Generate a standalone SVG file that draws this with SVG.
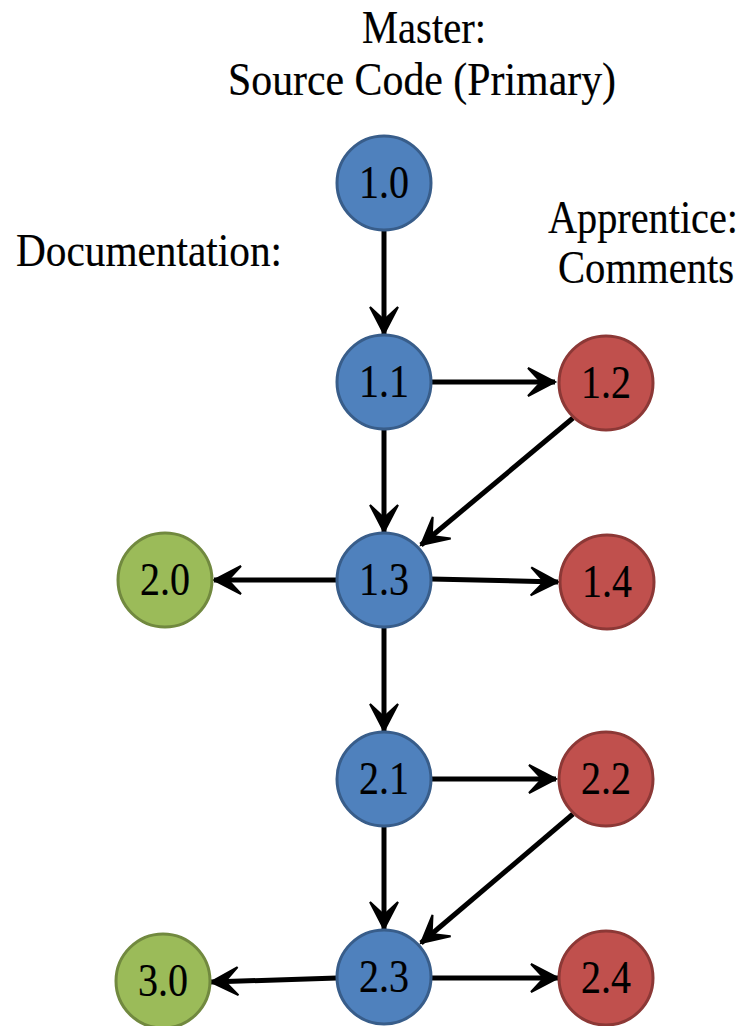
<svg xmlns="http://www.w3.org/2000/svg" width="749" height="1026" viewBox="0 0 749 1026">
  <style>
    .lbl { font-family: "Liberation Serif", "Times New Roman", serif; font-size: 46px; fill: #000; stroke: #000; stroke-width: 0.2; }
    .num { font-family: "Liberation Serif", "Times New Roman", serif; font-size: 46px; fill: #000; stroke: #000; stroke-width: 0.2; text-anchor: middle; }
    .blue { fill: #4F81BD; stroke: #385D8A; stroke-width: 3; }
    .red { fill: #C0504D; stroke: #8C3836; stroke-width: 3; }
    .green { fill: #9BBB59; stroke: #71893F; stroke-width: 3; }
    .edge { stroke: #000; stroke-width: 5; fill: none; marker-end: url(#arrow); }
  </style>
  <defs>
    <marker id="arrow" markerUnits="userSpaceOnUse" markerWidth="40" markerHeight="40" viewBox="-32 -20 36 40" refX="0" refY="0" orient="auto">
      <path d="M 0 0 L -27 -14 L -14 0 L -27 14 Z" fill="#000" stroke="#000" stroke-width="2" stroke-linejoin="miter"/>
    </marker>
  </defs>
  <rect width="749" height="1026" fill="#fff"/>

  <!-- headings -->
  <g id="headings">
    <text class="lbl" x="424" y="43" text-anchor="middle" textLength="124" lengthAdjust="spacingAndGlyphs">Master:</text>
    <text class="lbl" x="422" y="95" text-anchor="middle" textLength="388" lengthAdjust="spacingAndGlyphs">Source Code (Primary)</text>
    <text class="lbl" x="16" y="266" textLength="266" lengthAdjust="spacingAndGlyphs">Documentation:</text>
    <text class="lbl" transform="translate(548 233) scale(0.875 1)">Apprentice:</text>
    <text class="lbl" transform="translate(558 283) scale(0.884 1)">Comments</text>
  </g>

  <!-- connectors -->
  <g id="connectors">
    <line class="edge" x1="384" y1="230" x2="384" y2="334"/>
    <line class="edge" x1="431" y1="382" x2="555" y2="382"/>
    <line class="edge" x1="384" y1="430" x2="384" y2="532"/>
    <line class="edge" x1="573" y1="418" x2="421" y2="545"/>
    <line class="edge" x1="337" y1="580" x2="214" y2="580"/>
    <line class="edge" x1="431" y1="579" x2="558" y2="582"/>
    <line class="edge" x1="384" y1="627" x2="384" y2="731"/>
    <line class="edge" x1="431" y1="779" x2="556" y2="779"/>
    <line class="edge" x1="384" y1="826" x2="384" y2="929"/>
    <line class="edge" x1="573" y1="814" x2="421" y2="943"/>
    <line class="edge" x1="337" y1="978" x2="211" y2="982"/>
    <line class="edge" x1="431" y1="978" x2="558" y2="978"/>
  </g>

  <!-- nodes -->
  <g id="n10"><circle class="blue" cx="384" cy="183" r="47"/><text class="num" x="384" y="198" textLength="50" lengthAdjust="spacingAndGlyphs">1.0</text></g>
  <g id="n11"><circle class="blue" cx="384" cy="382" r="47"/><text class="num" x="384" y="397" textLength="50" lengthAdjust="spacingAndGlyphs">1.1</text></g>
  <g id="n12"><circle class="red" cx="606" cy="383" r="47"/><text class="num" x="606" y="398" textLength="50" lengthAdjust="spacingAndGlyphs">1.2</text></g>
  <g id="n13"><circle class="blue" cx="384" cy="580" r="47"/><text class="num" x="384" y="595" textLength="50" lengthAdjust="spacingAndGlyphs">1.3</text></g>
  <g id="n20"><circle class="green" cx="165" cy="580" r="47"/><text class="num" x="165" y="595" textLength="50" lengthAdjust="spacingAndGlyphs">2.0</text></g>
  <g id="n14"><circle class="red" cx="607" cy="582" r="47"/><text class="num" x="607" y="597" textLength="50" lengthAdjust="spacingAndGlyphs">1.4</text></g>
  <g id="n21"><circle class="blue" cx="384" cy="779" r="47"/><text class="num" x="384" y="794" textLength="50" lengthAdjust="spacingAndGlyphs">2.1</text></g>
  <g id="n22"><circle class="red" cx="606" cy="779" r="47"/><text class="num" x="606" y="794" textLength="50" lengthAdjust="spacingAndGlyphs">2.2</text></g>
  <g id="n23"><circle class="blue" cx="384" cy="977" r="47"/><text class="num" x="384" y="992" textLength="50" lengthAdjust="spacingAndGlyphs">2.3</text></g>
  <g id="n30"><circle class="green" cx="163" cy="981" r="47"/><text class="num" x="163" y="996" textLength="50" lengthAdjust="spacingAndGlyphs">3.0</text></g>
  <g id="n24"><circle class="red" cx="606" cy="978" r="47"/><text class="num" x="606" y="993" textLength="50" lengthAdjust="spacingAndGlyphs">2.4</text></g>
</svg>
